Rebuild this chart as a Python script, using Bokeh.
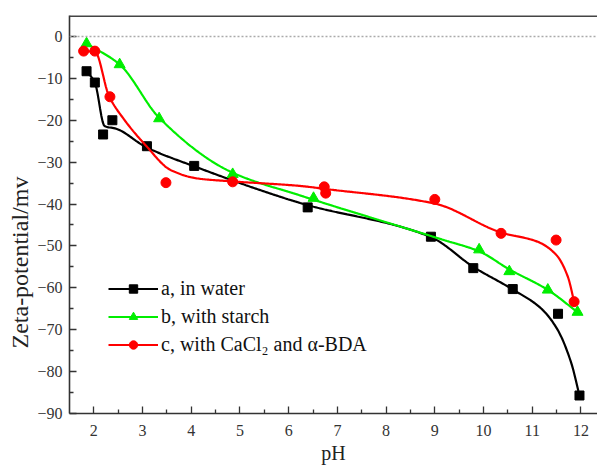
import numpy as np
from bokeh.plotting import figure
from bokeh.models import Range1d, Span, Legend, LegendItem, FixedTicker, Title
from bokeh.embed import file_html
from bokeh.resources import INLINE

# ---- measured data points (markers) ----
ph_water = [1.85, 2.02, 2.19, 2.38, 3.09, 4.06, 6.39, 8.92, 9.79, 10.60, 11.53, 11.97]
zeta_water = [-8.3, -11.0, -23.4, -20.0, -26.2, -30.9, -40.8, -47.8, -55.3, -60.3, -66.2, -85.7]

ph_starch = [1.85, 2.53, 3.34, 4.85, 6.51, 9.91, 10.53, 11.32, 11.93]
zeta_starch = [-1.7, -6.7, -19.6, -32.9, -38.6, -50.9, -56.1, -60.5, -65.8]

ph_cacl = [1.79, 2.02, 2.33, 3.48, 4.85, 6.73, 6.76, 9.00, 10.36, 11.49, 11.86]
zeta_cacl = [-3.5, -3.5, -14.4, -34.9, -34.7, -35.9, -37.4, -38.9, -47.0, -48.6, -63.3]

# ---- smoothed fit curves (knots) ----
fit_water_x = [1.85, 2.02, 2.22, 2.45, 3.07, 4.06, 6.25, 8.92, 9.79, 10.60, 11.18, 11.52, 11.80, 11.97]
fit_water_y = [-8.3, -11.0, -21.4, -22.0, -26.4, -31.0, -39.8, -47.9, -55.0, -60.4, -64.9, -70.0, -77.9, -85.7]

fit_starch_x = [1.85, 2.53, 3.34, 4.81, 6.25, 9.13, 9.91, 10.53, 11.32, 11.93]
fit_starch_y = [-1.7, -6.7, -19.4, -32.3, -38.0, -48.4, -51.3, -55.6, -60.5, -65.8]

fit_cacl_x = [1.79, 2.02, 2.31, 2.62, 3.05, 3.58, 4.13, 4.85, 6.25, 6.75, 9.00, 10.36, 11.11, 11.49, 11.73, 11.86]
fit_cacl_y = [-3.5, -3.6, -14.2, -19.8, -25.8, -31.9, -33.9, -34.6, -35.7, -36.4, -39.9, -46.8, -49.0, -52.1, -57.3, -63.3]

labels = ["a, in water", "b, with starch", "c, with CaCl\u2082 and \u03b1-BDA"]
colors = ["#000000", "#00ee00", "#ff0000"]

x_ticks = list(range(2, 13))
y_ticks = list(range(-90, 1, 10))


def pchip(xk, yk, n=400):
    xk = np.asarray(xk, float)
    yk = np.asarray(yk, float)
    h = np.diff(xk)
    delta = np.diff(yk) / h
    d = np.zeros_like(yk)
    for k in range(1, len(xk) - 1):
        if delta[k - 1] * delta[k] > 0:
            w1 = 2 * h[k] + h[k - 1]
            w2 = h[k] + 2 * h[k - 1]
            d[k] = (w1 + w2) / (w1 / delta[k - 1] + w2 / delta[k])
    d[0] = delta[0]
    d[-1] = delta[-1]
    xs = np.linspace(xk[0], xk[-1], n)
    idx = np.clip(np.searchsorted(xk, xs) - 1, 0, len(xk) - 2)
    t = (xs - xk[idx]) / h[idx]
    h00 = 2 * t**3 - 3 * t**2 + 1
    h10 = t**3 - 2 * t**2 + t
    h01 = -2 * t**3 + 3 * t**2
    h11 = t**3 - t**2
    ys = h00 * yk[idx] + h10 * h[idx] * d[idx] + h01 * yk[idx + 1] + h11 * h[idx] * d[idx + 1]
    return xs, ys


p = figure(width=597, height=466, output_backend="svg", toolbar_location=None,
           x_range=Range1d(1.5, 12.34), y_range=Range1d(-90, 5),
           min_border_left=69, min_border_right=0, min_border_top=15, min_border_bottom=53)
p.outline_line_color = None
p.xgrid.visible = False
p.ygrid.visible = False
p.background_fill_color = "white"

font = "Liberation Serif"
for ax in (p.xaxis[0], p.yaxis[0]):
    ax.axis_line_color = "#333333"
    ax.axis_line_width = 1.6
    ax.major_tick_line_color = "#333333"
    ax.minor_tick_line_color = "#333333"
    ax.major_tick_line_width = 1.3
    ax.minor_tick_line_width = 1.3
    ax.major_tick_in = 7
    ax.major_tick_out = 0
    ax.minor_tick_in = 4
    ax.minor_tick_out = 0
    ax.major_label_text_font = font
    ax.major_label_text_font_size = "16px"
    ax.major_label_text_color = "#333333"
    ax.axis_label_text_font = font
    ax.axis_label_text_font_style = "normal"
    ax.axis_label_text_color = "#222222"

p.xaxis.axis_label_text_font_size = "20px"
p.xaxis.ticker = FixedTicker(ticks=x_ticks, minor_ticks=[t + 0.5 for t in x_ticks[:-1]])
p.yaxis.ticker = FixedTicker(ticks=y_ticks, minor_ticks=[t + 5 for t in y_ticks[:-1]])
p.xaxis.axis_label = "pH"
p.xaxis.major_label_standoff = 11
p.yaxis.major_label_standoff = 7
p.xaxis.axis_label_standoff = 3

# y-axis title as a left-side title, starting a little above the frame bottom
p.add_layout(Title(text="Zeta-potential/mv", align="left", offset=65, standoff=3,
                   text_font=font, text_font_size="24px", text_font_style="normal",
                   text_color="#222222"), "left")

# top frame line and zero reference line
p.add_layout(Span(location=5, dimension="width", line_color="#444444", line_width=3))
p.add_layout(Span(location=0, dimension="width", line_color="#aaaaaa", line_width=1.5, line_dash="2 2"))

items = []
series = [
    (fit_water_x, fit_water_y, ph_water, zeta_water, "square", 9),
    (fit_starch_x, fit_starch_y, ph_starch, zeta_starch, "triangle", 11),
    (fit_cacl_x, fit_cacl_y, ph_cacl, zeta_cacl, "circle", 10),
]
for (fx, fy, px, py, marker, size), lab, col in zip(series, labels, colors):
    cx, cy = pchip(fx, fy)
    r1 = p.line(cx, cy, line_color=col, line_width=2.2)
    r2 = p.scatter(px, py, marker=marker, size=size, fill_color=col, line_color=col)
    items.append(LegendItem(label=lab, renderers=[r1, r2]))

legend = Legend(items=items, location=(39, 57), padding=0, margin=0, spacing=5,
                glyph_width=50, glyph_height=21, label_height=21, label_standoff=3,
                label_text_font=font, label_text_font_size="20px", label_text_color="#111111",
                background_fill_alpha=0, border_line_color=None)
p.add_layout(legend)

open("out.html", "w").write(file_html(p, INLINE))
